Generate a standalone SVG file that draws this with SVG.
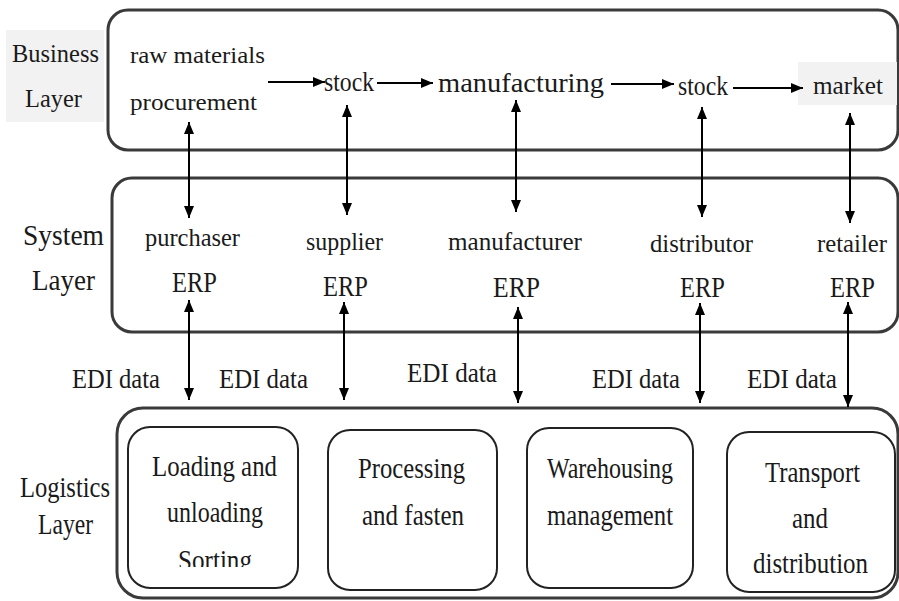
<svg xmlns="http://www.w3.org/2000/svg" width="899" height="601" viewBox="0 0 899 601">
<style>
text{font-family:'Liberation Serif','Times New Roman','DejaVu Serif',serif;fill:#1a1a1a;}
.layer{fill:#fff;stroke:#3a3a3a;stroke-width:3;}
.inner{fill:#fff;stroke:#222;stroke-width:2;}
.con{stroke:#000;stroke-width:2;fill:none;}
.hl{fill:#f2f2f2;}
</style>
<defs>
<marker id="ah" viewBox="0 0 12 10" refX="12" refY="5" markerWidth="12" markerHeight="10" markerUnits="userSpaceOnUse" orient="auto-start-reverse">
<path d="M0,0 L12,5 L0,10 z" fill="#000"/>
</marker>
<clipPath id="clipSort"><rect x="128" y="427" width="170" height="140"/></clipPath>
</defs>
<rect width="899" height="601" fill="#fff"/>

<g id="business-layer">
<rect class="hl" x="6" y="30" width="98" height="92"/>
<text x="12" y="62" font-size="26" textLength="87" lengthAdjust="spacingAndGlyphs">Business</text>
<text x="25" y="107" font-size="26" textLength="57" lengthAdjust="spacingAndGlyphs">Layer</text>
<rect class="layer" x="108" y="10" width="790" height="140" rx="20"/>
</g>
<g id="raw-materials">
<text x="130" y="63" font-size="24" textLength="135" lengthAdjust="spacingAndGlyphs">raw materials</text>
<text x="130" y="110" font-size="24" textLength="127" lengthAdjust="spacingAndGlyphs">procurement</text>
</g>
<g id="stock1"><text x="324" y="91" font-size="28" textLength="50" lengthAdjust="spacingAndGlyphs">stock</text></g>
<g id="manufacturing"><text x="438" y="92" font-size="28" textLength="166" lengthAdjust="spacingAndGlyphs">manufacturing</text></g>
<g id="stock2"><text x="678" y="95" font-size="28" textLength="50" lengthAdjust="spacingAndGlyphs">stock</text></g>
<g id="market">
<rect class="hl" x="798" y="62" width="99" height="43"/>
<text x="813" y="94" font-size="26" textLength="70" lengthAdjust="spacingAndGlyphs">market</text>
</g>

<g id="system-layer">
<text x="23" y="245" font-size="30" textLength="81" lengthAdjust="spacingAndGlyphs">System</text>
<text x="32" y="290" font-size="30" textLength="63" lengthAdjust="spacingAndGlyphs">Layer</text>
<rect class="layer" x="112" y="178" width="786" height="154" rx="20"/>
</g>
<g id="purchaser-erp">
<text x="145" y="246" font-size="26" textLength="95" lengthAdjust="spacingAndGlyphs">purchaser</text>
<text x="172" y="292" font-size="29" textLength="45" lengthAdjust="spacingAndGlyphs">ERP</text>
</g>
<g id="supplier-erp">
<text x="306" y="250" font-size="26" textLength="77" lengthAdjust="spacingAndGlyphs">supplier</text>
<text x="323" y="296" font-size="29" textLength="45" lengthAdjust="spacingAndGlyphs">ERP</text>
</g>
<g id="manufacturer-erp">
<text x="448" y="250" font-size="26" textLength="134" lengthAdjust="spacingAndGlyphs">manufacturer</text>
<text x="493" y="297" font-size="29" textLength="47" lengthAdjust="spacingAndGlyphs">ERP</text>
</g>
<g id="distributor-erp">
<text x="650" y="252" font-size="26" textLength="103" lengthAdjust="spacingAndGlyphs">distributor</text>
<text x="680" y="297" font-size="29" textLength="45" lengthAdjust="spacingAndGlyphs">ERP</text>
</g>
<g id="retailer-erp">
<text x="817" y="252" font-size="26" textLength="70" lengthAdjust="spacingAndGlyphs">retailer</text>
<text x="830" y="297" font-size="29" textLength="45" lengthAdjust="spacingAndGlyphs">ERP</text>
</g>

<g id="logistics-layer">
<text x="20" y="497" font-size="29" textLength="90" lengthAdjust="spacingAndGlyphs">Logistics</text>
<text x="38" y="534" font-size="29" textLength="55" lengthAdjust="spacingAndGlyphs">Layer</text>
<rect class="layer" x="117" y="408" width="781" height="190" rx="26"/>
</g>
<g id="loading">
<rect class="inner" x="128" y="427" width="170" height="161" rx="22"/>
<text x="152" y="476" font-size="29" textLength="125" lengthAdjust="spacingAndGlyphs">Loading and</text>
<text x="167" y="522" font-size="29" textLength="96" lengthAdjust="spacingAndGlyphs">unloading</text>
<text x="178" y="570" font-size="29" textLength="74" lengthAdjust="spacingAndGlyphs" clip-path="url(#clipSort)">Sorting</text>
</g>
<g id="processing">
<rect class="inner" x="328" y="430" width="169" height="160" rx="22"/>
<text x="358" y="478" font-size="29" textLength="107" lengthAdjust="spacingAndGlyphs">Processing</text>
<text x="362" y="525" font-size="29" textLength="102" lengthAdjust="spacingAndGlyphs">and fasten</text>
</g>
<g id="warehousing">
<rect class="inner" x="527" y="428" width="166" height="160" rx="22"/>
<text x="547" y="478" font-size="29" textLength="126" lengthAdjust="spacingAndGlyphs">Warehousing</text>
<text x="547" y="525" font-size="29" textLength="126" lengthAdjust="spacingAndGlyphs">management</text>
</g>
<g id="transport">
<rect class="inner" x="727" y="432" width="168" height="160" rx="22"/>
<text x="765" y="482" font-size="29" textLength="95" lengthAdjust="spacingAndGlyphs">Transport</text>
<text x="792" y="528" font-size="29" textLength="36" lengthAdjust="spacingAndGlyphs">and</text>
<text x="753" y="573" font-size="29" textLength="115" lengthAdjust="spacingAndGlyphs">distribution</text>
</g>

<g id="edi-labels">
<text x="72" y="388" font-size="28" textLength="88" lengthAdjust="spacingAndGlyphs">EDI data</text>
<text x="219" y="388" font-size="28" textLength="89" lengthAdjust="spacingAndGlyphs">EDI data</text>
<text x="407" y="382" font-size="28" textLength="90" lengthAdjust="spacingAndGlyphs">EDI data</text>
<text x="592" y="388" font-size="28" textLength="88" lengthAdjust="spacingAndGlyphs">EDI data</text>
<text x="747" y="388" font-size="28" textLength="90" lengthAdjust="spacingAndGlyphs">EDI data</text>
</g>

<g id="connectors">
<line class="con" x1="268" y1="82" x2="325" y2="82" marker-end="url(#ah)"/>
<line class="con" x1="377" y1="83" x2="433" y2="83" marker-end="url(#ah)"/>
<line class="con" x1="611" y1="84" x2="674" y2="84" marker-end="url(#ah)"/>
<line class="con" x1="733" y1="88" x2="803" y2="88" marker-end="url(#ah)"/>

<line class="con" x1="189" y1="122" x2="189" y2="218" marker-start="url(#ah)" marker-end="url(#ah)"/>
<line class="con" x1="347" y1="105" x2="347" y2="215" marker-start="url(#ah)" marker-end="url(#ah)"/>
<line class="con" x1="516" y1="100" x2="516" y2="212" marker-start="url(#ah)" marker-end="url(#ah)"/>
<line class="con" x1="702" y1="107" x2="702" y2="217" marker-start="url(#ah)" marker-end="url(#ah)"/>
<line class="con" x1="850" y1="113" x2="850" y2="223" marker-start="url(#ah)" marker-end="url(#ah)"/>

<line class="con" x1="189" y1="300" x2="189" y2="400" marker-start="url(#ah)" marker-end="url(#ah)"/>
<line class="con" x1="344" y1="302" x2="344" y2="400" marker-start="url(#ah)" marker-end="url(#ah)"/>
<line class="con" x1="518" y1="307" x2="518" y2="403" marker-start="url(#ah)" marker-end="url(#ah)"/>
<line class="con" x1="700" y1="303" x2="700" y2="403" marker-start="url(#ah)" marker-end="url(#ah)"/>
<line class="con" x1="848" y1="302" x2="848" y2="407" marker-start="url(#ah)" marker-end="url(#ah)"/>
</g>
</svg>
